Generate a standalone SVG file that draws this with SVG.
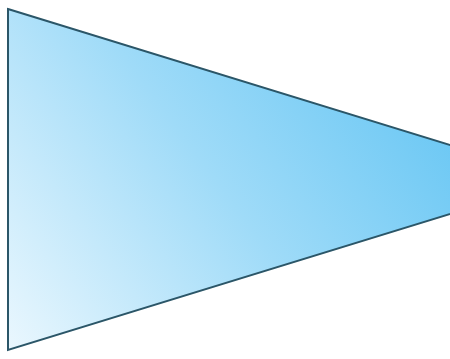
<svg xmlns="http://www.w3.org/2000/svg" width="450" height="359" viewBox="0 0 450 359">
<defs>
<linearGradient id="g" x1="8" y1="350" x2="400" y2="60" gradientUnits="userSpaceOnUse">
<stop offset="0" stop-color="#eaf7fe"/>
<stop offset="0.55" stop-color="#9fdbf8"/>
<stop offset="1" stop-color="#6cc8f4"/>
</linearGradient>
</defs>
<g id="shape">
<polygon points="8,9 562,179.5 8,350" fill="url(#g)" stroke="#2b5668" stroke-width="2"/>
</g>
</svg>
